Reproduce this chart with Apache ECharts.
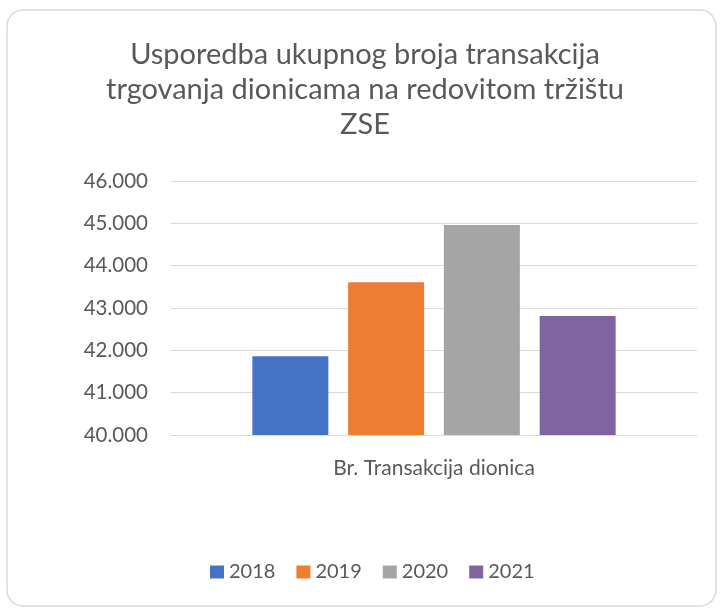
<!DOCTYPE html>
<html>
<head>
<meta charset="utf-8">
<style>
  html, body { margin: 0; padding: 0; background: #fff; }
  #chart { width: 722px; height: 610px; }
</style>
<script src="https://cdn.jsdelivr.net/npm/echarts@6/dist/echarts.min.js"></script>
</head>
<body>
<div id="chart"></div>
<script>
const categories = ['Br. Transakcija dionica']
const years = ['2018', '2019', '2020', '2021']
const values2018 = [41860]
const values2019 = [43610]
const values2020 = [44960]
const values2021 = [42810]
const seriesValues = [values2018, values2019, values2020, values2021]
const barColors = ['#4472C4', '#ED7D31', '#A5A5A5', '#8064A2']

const textColor = '#595959'
const fontFamily = 'Lato, "Open Sans", sans-serif'

const chart = echarts.init(document.getElementById('chart'))

const series = years.map((name, i) => ({
  name: name,
  type: 'bar',
  barWidth: 76,
  barGap: '26%',
  itemStyle: { color: barColors[i] },
  data: seriesValues[i]
}))

chart.setOption({
  backgroundColor: '#fff',
  animation: false,
  textStyle: { fontFamily: fontFamily },
  graphic: [{
    type: 'rect',
    shape: { x: 7, y: 10, width: 709, height: 596, r: 16 },
    style: { fill: 'none', stroke: '#d9d9d9', lineWidth: 1.5 },
    silent: true
  }],
  title: {
    text: 'Usporedba ukupnog broja transakcija\ntrgovanja dionicama na redovitom tržištu\nZSE',
    left: 360,
    textAlign: 'center',
    top: 32,
    textStyle: {
      fontFamily: fontFamily,
      fontWeight: 'normal',
      fontSize: 29,
      lineHeight: 35,
      color: textColor
    }
  },
  legend: {
    data: years,
    bottom: 23,
    left: 205,
    icon: 'rect',
    itemWidth: 14,
    itemHeight: 13,
    itemGap: 21,
    textStyle: { fontSize: 20, color: textColor, fontFamily: fontFamily }
  },
  grid: {
    left: 171,
    right: 25,
    top: 181,
    bottom: 175
  },
  xAxis: {
    type: 'category',
    data: categories,
    axisLine: { lineStyle: { color: '#d9d9d9', width: 1 } },
    axisTick: { show: false },
    axisLabel: { margin: 23, fontSize: 21, color: textColor, fontFamily: fontFamily }
  },
  yAxis: {
    type: 'value',
    min: 40000,
    max: 46000,
    interval: 1000,
    axisLine: { show: false },
    axisTick: { show: false },
    splitLine: { lineStyle: { color: '#d9d9d9', width: 1 } },
    axisLabel: {
      margin: 23,
      fontSize: 20.5,
      color: textColor,
      fontFamily: fontFamily,
      formatter: v => (v / 1000).toFixed(3)
    }
  },
  series: series
})
</script>
</body>
</html>
